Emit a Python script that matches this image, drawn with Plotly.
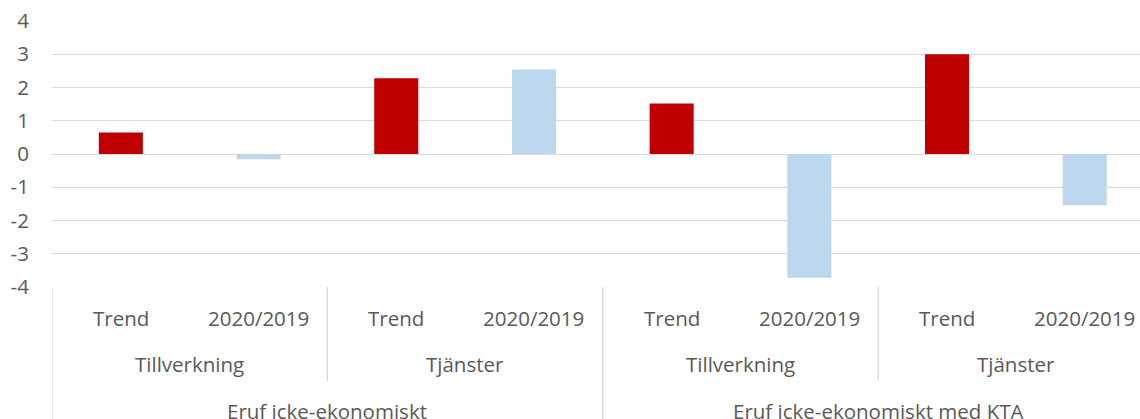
import plotly.graph_objects as go

# Data
groups = ["Eruf icke-ekonomiskt", "Eruf icke-ekonomiskt med KTA"]
sectors = ["Tillverkning", "Tjänster"]
measures = ["Trend", "2020/2019"]
trend_values = [0.65, 2.28, 1.52, 3.0]
change_values = [-0.16, 2.54, -3.72, -1.54]
y_ticks = [-4, -3, -2, -1, 0, 1, 2, 3, 4]
y_tick_labels = [str(v) for v in y_ticks]

RED = "#C00000"
BLUE = "#BDD7EE"
TEXT = "#595959"
GRID = "#D9D9D9"
FONT = "Open Sans"
FS = 20.5

n_sec = len(groups) * len(sectors)
trend_x = [i * 2 for i in range(n_sec)]
change_x = [i * 2 + 1 for i in range(n_sec)]

fig = go.Figure()
fig.add_trace(go.Bar(x=trend_x, y=trend_values, name=measures[0],
                     marker=dict(color=RED, line=dict(width=0)), width=0.32))
fig.add_trace(go.Bar(x=change_x, y=change_values, name=measures[1],
                     marker=dict(color=BLUE, line=dict(width=0)), width=0.32))

H = 419
top, bottom = 21, 287
ph = bottom - top


def py(pix):
    return (bottom - pix) / ph


annotations = []
shapes = []
# level 1: measures
for i in range(n_sec * 2):
    annotations.append(dict(x=i, y=py(318), xref="x", yref="paper", text=measures[i % 2],
                            yanchor="middle", xanchor="center",
                            showarrow=False, font=dict(family=FONT, size=FS, color=TEXT)))
# level 2: sectors
for s in range(n_sec):
    annotations.append(dict(x=2 * s + 0.5, y=py(364), xref="x", yref="paper",
                            text=sectors[s % len(sectors)], showarrow=False,
                            yanchor="middle", xanchor="center",
                            font=dict(family=FONT, size=FS, color=TEXT)))
# level 3: groups
for g in range(len(groups)):
    annotations.append(dict(x=4 * g + 1.5, y=py(411), xref="x", yref="paper",
                            text=groups[g], showarrow=False,
                            yanchor="middle", xanchor="center",
                            font=dict(family=FONT, size=FS, color=TEXT)))

# divider lines
shapes.append(dict(type="line", xref="x", yref="paper", x0=-0.5, x1=-0.5,
                   y0=0, y1=py(H), line=dict(color=GRID, width=1.3)))
for s in range(1, n_sec):
    xpos = 2 * s - 0.5
    full = (s % len(sectors) == 0)
    shapes.append(dict(type="line", xref="x", yref="paper", x0=xpos, x1=xpos,
                       y0=0, y1=py(H) if full else py(381),
                       line=dict(color=GRID, width=1.3)))

fig.update_layout(
    width=1140, height=H,
    margin=dict(l=52, r=0, t=top, b=H - bottom, autoexpand=False),
    plot_bgcolor="white", paper_bgcolor="white",
    barmode="overlay", showlegend=False,
    annotations=annotations, shapes=shapes,
    font=dict(family=FONT, size=FS, color=TEXT),
)
fig.update_xaxes(range=[-0.5, -0.5 + (1140 - 52) / 137.7], showticklabels=False,
                 showgrid=False, zeroline=False, showline=False, fixedrange=True,
                 automargin=False)
fig.update_yaxes(range=[-4, 4], tickvals=y_ticks, ticktext=y_tick_labels,
                 showgrid=True, gridcolor=GRID, automargin=False,
                 gridwidth=1.3, zeroline=True, zerolinecolor=GRID, zerolinewidth=1.3,
                 showline=False, ticks="outside", ticklen=18, tickcolor="rgba(0,0,0,0)",
                 tickfont=dict(family=FONT, size=FS, color=TEXT))

fig.write_html("out.html", config={"displayModeBar": False},
               post_script="document.body.style.margin='0';document.body.style.overflow='hidden';")
